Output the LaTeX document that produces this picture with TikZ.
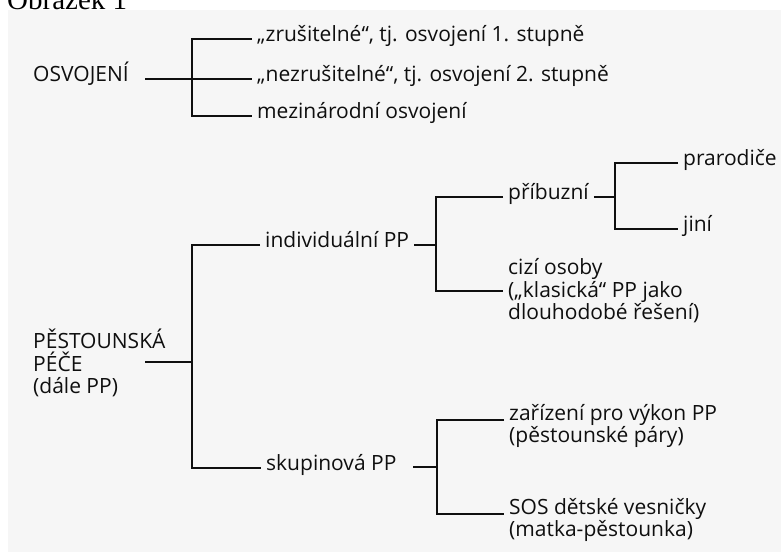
\documentclass[tikz,border=0pt]{standalone}
\usepackage{fontspec}
\setmainfont{Open Sans}
\newfontfamily\capfont{Liberation Serif}
\usetikzlibrary{positioning, calc}
\definecolor{panel}{RGB}{246,246,246}
\definecolor{ink}{RGB}{15,15,15}
\newcommand{\tworows}[2]{\begin{tabular}[t]{@{}l@{}}#1\\#2\end{tabular}}
\tikzset{
  leaf/.style={anchor=west, inner xsep=5pt, inner ysep=0pt, text height=1.4ex, text depth=0.4ex, font=\fontsize{21}{22.5}\selectfont, text=ink},
  multi/.style={anchor=west, inner xsep=5pt, inner ysep=0pt, align=left, font=\fontsize{21}{22.5}\selectfont, text=ink},
  pair/.style={anchor=base west, inner xsep=5pt, inner ysep=0pt, font=\fontsize{21}{22}\selectfont, text=ink},
  branch/.style={draw=ink, line width=1.8pt}
}
\begin{document}
\begin{tikzpicture}[x=1pt, y=-1pt]
    \useasboundingbox (0,0) rectangle (781,552);
    \fill[panel] (8,10) rectangle (781,552);
    \node (title) [anchor=base west, inner sep=0pt, font=\capfont\fontsize{29}{30}\selectfont] at (7,9) {Obrázek 1};

    % osvojeni
    \node (osv) [leaf] at (28,79) {OSVOJENÍ};
    \coordinate (osvstub) at (145,79);
    \coordinate (ja) at (192,79);
    \node (zrus) [leaf] at (252,39) {„zrušitelné“, tj. osvojení 1. stupně};
    \node (nezrus) [leaf] at (252,79) {„nezrušitelné“, tj. osvojení 2. stupně};
    \node (mezi) [leaf] at (252,116) {mezinárodní osvojení};

    \draw [branch] (osvstub) -- (nezrus.west);
    \draw [branch] (zrus.west) -| (ja) |- (mezi.west);

    % pestounska pece
    \node (pp) [multi] at (28,363) {PĚSTOUNSKÁ\\PÉČE\\(dále PP)};
    \coordinate (ppstub) at (145,362);
    \coordinate (jb) at (192,362);
    \node (indiv) [leaf] at (260,245) {individuální PP};
    \node (skup) [leaf] at (261,468) {skupinová PP};

    \draw [branch] (ppstub) -- (jb);
    \draw [branch] (indiv.west) -| (jb) |- (skup.west);

    % individualni PP
    \coordinate (indivstub) at (414,245);
    \coordinate (jc) at (436,245);
    \node (pribuz) [leaf] at (503,197) {příbuzní};
    \node (cizi) [multi] at (503,291) {cizí osoby\\(„klasická“ PP jako\\dlouhodobé řešení)};

    \draw [branch] (indivstub) -- (jc);
    \draw [branch] (pribuz.west) -| (jc) |- (cizi.west);

    % pribuzni
    \coordinate (jd) at (615,197);
    \node (prarod) [leaf] at (678,163) {prarodiče};
    \node (jini) [leaf] at (678,229) {jiní};

    \draw [branch] (pribuz.east) -- (jd);
    \draw [branch] (prarod.west) -| (jd) |- (jini.west);

    % skupinova PP
    \coordinate (skupstub) at (413,467);
    \coordinate (je) at (437,467);
    \node (zariz) [pair] at (504,420) {\tworows{zařízení pro výkon PP}{(pěstounské páry)}};
    \node (sos) [pair] at (504,514) {\tworows{SOS dětské vesničky}{(matka-pěstounka)}};

    \draw [branch] (skupstub) -- (je);
    \draw [branch] (zariz.base west) -| (je) |- (sos.base west);
\end{tikzpicture}
\end{document}
